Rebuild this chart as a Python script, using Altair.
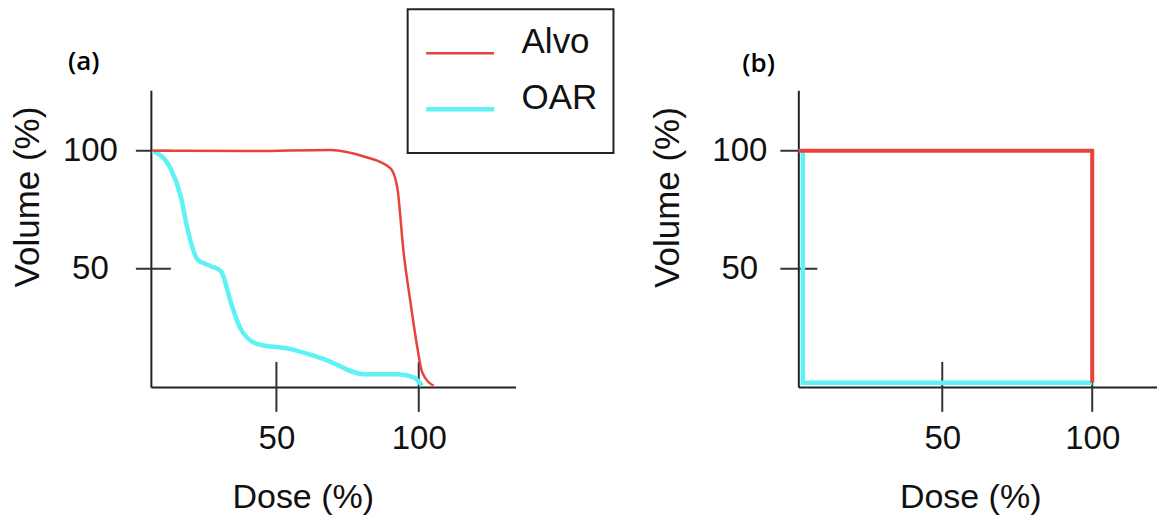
import altair as alt
import pandas as pd

series_names = ["Alvo", "OAR"]
series_colors = ["#e8423c", "#5ef2f6"]

# Panel (a): smooth dose-volume histogram curves
alvo_a_dose = [6.5, 40, 69, 80.7, 90, 92.4, 94.7, 97.1, 99.4, 101.2, 105.2]
alvo_a_vol = [100, 99.8, 100.3, 97.5, 92.6, 84.8, 56.7, 35.7, 17.4, 6.2, 0.5]
oar_a_dose = [6.5, 13, 16.4, 18.8, 22.3, 27, 30.5, 34, 37.5, 43.4, 55, 66.7, 80.7, 92.4, 98.2, 101.2]
oar_a_vol = [100, 92, 80.6, 66.6, 53.9, 51.1, 49, 35.7, 24.4, 18.1, 16, 11.8, 5.4, 5.4, 4, 0.5]

# Panel (b): ideal step curves
alvo_b_dose = [2, 100, 100]
alvo_b_vol = [100, 100, 1.8]
oar_b_dose = [3.5, 3.5, 100]
oar_b_vol = [100, 1.8, 1.8]

x_ticks = [50, 100]
y_ticks = [50, 100]

FONT = "Liberation Sans"


def frame(pairs):
    rows = []
    for name, doses, vols in pairs:
        for i, (d, v) in enumerate(zip(doses, vols)):
            rows.append({"series": name, "dose": d, "vol": v, "idx": i})
    return pd.DataFrame(rows)


df_a = frame([("OAR", oar_a_dose, oar_a_vol), ("Alvo", alvo_a_dose, alvo_a_vol)])
df_b = frame([("OAR", oar_b_dose, oar_b_vol), ("Alvo", alvo_b_dose, alvo_b_vol)])
xt_df = pd.DataFrame({"dose": x_ticks})
yt_df = pd.DataFrame({"vol": y_ticks})

color_scale = alt.Scale(domain=series_names, range=series_colors)


def panel(df, label, xdom, ydom, width, height, interp, widths, legend,
          ylab_pad, ytitle_x, ytitle_y, xtitle_x, title_dx, title_dy, ytick_l, ytick_r):
    x_axis = alt.Axis(values=x_ticks, ticks=False, grid=False, domainColor="#222", domainWidth=2,
                      labelFont=FONT, labelFontSize=33, labelColor="#111", labelPadding=36,
                      labelFlush=False, labelOverlap=False,
                      title="Dose (%)", titleFont=FONT, titleFontSize=34, titleFontWeight="normal",
                      titleColor="#111", titleX=xtitle_x, titleY=121, titleAlign="center",
                      titleBaseline="alphabetic", titleAnchor="start")
    y_axis = alt.Axis(values=y_ticks, ticks=False, grid=False, domainColor="#222", domainWidth=2,
                      labelFont=FONT, labelFontSize=33, labelColor="#111", labelPadding=ylab_pad,
                      labelAlign="center", labelBaseline="middle", labelFlush=False, labelOverlap=False,
                      title="Volume (%)", titleFont=FONT, titleFontSize=35, titleFontWeight="normal",
                      titleColor="#111", titleX=ytitle_x, titleY=ytitle_y, titleAlign="center",
                      titleBaseline="middle", titleAngle=270)
    xs = alt.Scale(domain=xdom, nice=False, zero=False)
    ys = alt.Scale(domain=ydom, nice=False, zero=False)
    lines = alt.Chart(df).mark_line(interpolate=interp, strokeCap="butt").encode(
        x=alt.X("dose:Q", scale=xs, axis=x_axis),
        y=alt.Y("vol:Q", scale=ys, axis=y_axis),
        color=alt.Color("series:N", scale=color_scale, legend=legend, sort=series_names),
        strokeWidth=alt.StrokeWidth("series:N", scale=alt.Scale(domain=series_names, range=widths), legend=None),
        order=alt.Order("idx:Q"),
        detail="series:N",
    )
    xt = alt.Chart(xt_df).mark_rule(color="#333", strokeWidth=2).encode(
        x=alt.X("dose:Q", scale=xs), y=alt.value(height - 25), y2=alt.value(height + 25))
    yt = alt.Chart(yt_df).mark_rule(color="#333", strokeWidth=2).encode(
        y=alt.Y("vol:Q", scale=ys), x=alt.value(ytick_l), x2=alt.value(ytick_r))
    return alt.layer(xt, yt, lines).properties(
        width=width, height=height,
        title=alt.Title(label, anchor="start", frame="group", dx=title_dx, dy=title_dy, offset=17,
                        baseline="alphabetic", font="Open Sans", fontSize=26,
                        fontWeight=600, color="black"),
    )


legend_a = alt.Legend(title=None, orient="none", legendX=257, legendY=-81, direction="vertical",
                      symbolType="stroke", symbolSize=4624, symbolStrokeWidth=4.5,
                      labelFont=FONT, labelFontSize=35, labelColor="#111", labelOffset=25,
                      labelBaseline="alphabetic", padding=16, rowPadding=0, clipHeight=56,
                      strokeColor="#222", fillColor="white")

pa = panel(df_a, "(a)", [5.9, 134], [0, 125.6], 365, 297, "monotone", [2.5, 4.5], legend_a,
           61, -123, 106.5, 152, -83, 105, -15, 20)
pb = panel(df_b, "(b)", [2.0, 121.6], [0, 125.6], 359, 297, "linear", [4, 4.5], None,
           59, -131, 107, 172, -56, 25, -18, 19)

chart = alt.hconcat(pa, pb, spacing=283, bounds="flush").resolve_legend(
    color="independent").resolve_scale(color="independent", strokeWidth="independent").properties(
    padding={"left": 10, "top": 8, "right": 0, "bottom": 0}
).configure_view(stroke=None).configure_legend(strokeWidth=2)

chart.save("out.html", embed_options={"renderer": "svg", "actions": False})
